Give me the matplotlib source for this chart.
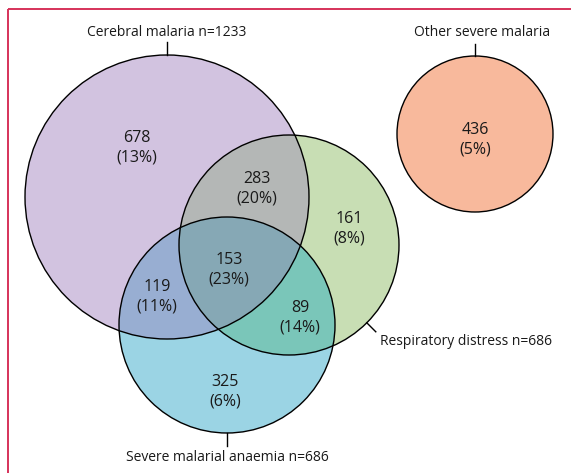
# -- Venn diagram of severe malaria syndromes

import numpy as np
import matplotlib.pyplot as plt
from matplotlib.patches import Circle, Polygon

plt.rcParams['font.family'] = ['Open Sans', 'DejaVu Sans']

# Data
set_names  = ["Cerebral malaria", "Respiratory distress", "Severe malarial anaemia"]
set_totals = [1233, 686, 686]
other_name  = "Other severe malaria"
other_count = 436
other_pct   = 5

# region counts / percentages (C = cerebral, R = respiratory, A = anaemia)
region_keys   = ["C", "CR", "R", "CRA", "CA", "RA", "A"]
region_counts = [678, 283, 161, 153, 119, 89, 325]
region_pcts   = [13, 20, 8, 23, 11, 14, 6]

# Layout (pixel space of the figure)
centers = {"C": (167, 197), "R": (289, 245), "A": (227, 325)}
radii   = {"C": 142, "R": 110, "A": 108}
other_center, other_r = (475, 134), 78

fills = {"C": "#d2c3e0", "R": "#c8deb4", "A": "#9bd4e4",
         "CR": "#b4b7b6", "CA": "#98aed2", "RA": "#7ac6b9", "CRA": "#86a8b5"}
other_fill = "#f8b99c"

label_pos = {"C": (137, 148), "CR": (257, 189), "R": (349, 229), "CRA": (229, 270),
             "CA": (157, 297), "RA": (300, 318), "A": (225, 392)}


def intersection_polygon(keys, n=720):
    # intersection of circles is convex: collect boundary points inside all, sort by angle
    pts = []
    t = np.linspace(0, 2 * np.pi, n, endpoint=False)
    for k in keys:
        cx, cy = centers[k]
        r = radii[k]
        p = np.column_stack([cx + r * np.cos(t), cy + r * np.sin(t)])
        inside = np.ones(len(p), bool)
        for o in keys:
            if o == k:
                continue
            ox, oy = centers[o]
            inside &= np.hypot(p[:, 0] - ox, p[:, 1] - oy) <= radii[o] + 1e-9
        pts.append(p[inside])
    pts = np.vstack(pts)
    m = pts.mean(axis=0)
    order = np.argsort(np.arctan2(pts[:, 1] - m[1], pts[:, 0] - m[0]))
    return pts[order]


fig = plt.figure(figsize=(5.71, 4.73), dpi=100)
ax = fig.add_axes([0, 0, 1, 1])
ax.set_xlim(0, 571)
ax.set_ylim(473, 0)
ax.set_aspect("equal")
ax.axis("off")

# frame lines (pink)
ax.plot([8, 8], [473, 9], color="#d6325a", lw=1.4, solid_capstyle="butt")
ax.plot([8, 571], [9, 9], color="#d6325a", lw=1.4, solid_capstyle="butt")

# filled circles
for k in ["C", "R", "A"]:
    ax.add_patch(Circle(centers[k], radii[k], facecolor=fills[k], edgecolor="none"))
for combo in [("C", "R"), ("C", "A"), ("R", "A"), ("C", "R", "A")]:
    poly = intersection_polygon(combo)
    ax.add_patch(Polygon(poly, closed=True, facecolor=fills["".join(combo)], edgecolor="none"))
for k in ["C", "R", "A"]:
    ax.add_patch(Circle(centers[k], radii[k], facecolor="none", edgecolor="black", lw=1.0))

ax.add_patch(Circle(other_center, other_r, facecolor=other_fill, edgecolor="black", lw=1.0))

# region labels
fs_num = 11.5
fs_lab = 10
for k, c, p in zip(region_keys, region_counts, region_pcts):
    x, y = label_pos[k]
    ax.text(x, y, f"{c}\n({p}%)", ha="center", va="center", fontsize=fs_num,
            color="#1a1a1a", linespacing=1.3)
ax.text(other_center[0], other_center[1] + 6, f"{other_count}\n({other_pct}%)",
        ha="center", va="center", fontsize=fs_num, color="#1a1a1a", linespacing=1.3)

# set labels with leader ticks
cx, cy = centers["C"]
ax.plot([cx, cx], [cy - radii["C"], cy - radii["C"] - 13], color="black", lw=1)
ax.text(cx, 32, f"{set_names[0]} n={set_totals[0]}", ha="center", va="center",
        fontsize=fs_lab, color="#1a1a1a")

ox, oy = other_center
ax.plot([ox, ox], [oy - other_r, oy - other_r - 12], color="black", lw=1)
ax.text(482, 32, other_name, ha="center", va="center", fontsize=fs_lab, color="#1a1a1a")

rx, ry = centers["R"]
ang = np.deg2rad(45)
x0, y0 = rx + radii["R"] * np.cos(ang), ry + radii["R"] * np.sin(ang)
ax.plot([x0, x0 + 9], [y0, y0 + 9], color="black", lw=1)
ax.text(380, 341, f"{set_names[1]} n={set_totals[1]}", ha="left", va="center",
        fontsize=fs_lab, color="#1a1a1a")

axx, ayy = centers["A"]
ax.plot([axx, axx], [ayy + radii["A"], ayy + radii["A"] + 13], color="black", lw=1)
ax.text(axx, 457, f"{set_names[2]} n={set_totals[2]}", ha="center", va="center",
        fontsize=fs_lab, color="#1a1a1a")

plt.savefig("out.png", dpi=100)
